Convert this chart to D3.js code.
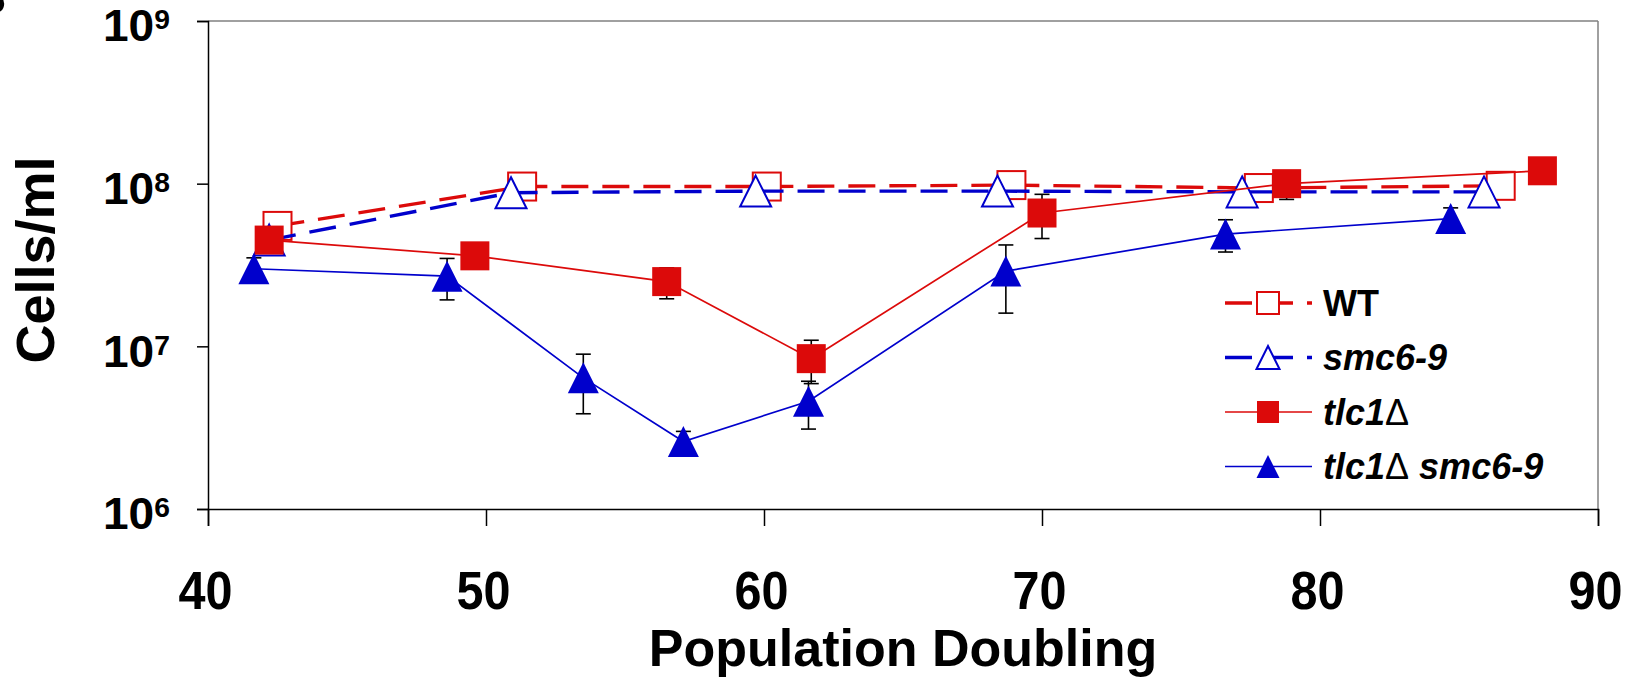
<!DOCTYPE html>
<html>
<head>
<meta charset="utf-8">
<script src="https://cdn.jsdelivr.net/npm/d3@7"></script>
<style>
  body { margin: 0; background: #fff; }
  svg { display: block; font-family: "Liberation Sans", Arial, sans-serif; }
  .axis text { font-weight: bold; fill: #000; }
</style>
</head>
<body>
<svg id="chart" width="1632" height="679"></svg>
<script>
const RED = '#dc0a0a'
const BLUE = '#0000cc'

// population doublings (x) and cells/ml (y) for each strain
const wtX = [42.5, 51.3, 60.1, 68.9, 77.8, 86.5]
const wtY = [5.5e7, 9.6e7, 9.6e7, 9.8e7, 9.4e7, 9.7e7]

const smcX = [42.2, 50.9, 59.7, 68.4, 77.2, 85.9]
const smcY = [4.5e7, 8.8e7, 9.0e7, 9.0e7, 8.9e7, 8.9e7]

const tlcX = [42.2, 49.6, 56.5, 61.7, 70.0, 78.8, 88.0]
const tlcY = [4.5e7, 3.6e7, 2.5e7, 8.4e6, 6.6e7, 1.0e8, 1.2e8]
const tlcErr = [null, null, 5.4e6, 2.5e6, 2.0e7, 2.0e7, null]

const dblX = [41.65, 48.6, 53.5, 57.1, 61.6, 68.7, 76.6, 84.7]
const dblY = [3.0e7, 2.7e7, 6.4e6, 2.6e6, 4.6e6, 2.9e7, 4.9e7, 6.1e7]
const dblErr = [5e6, 7.7e6, 2.55e6, 4e5, 1.5e6, 1.3e7, 1.1e7, 1.0e7]

const xTicks = [40, 50, 60, 70, 80, 90]
const yTicks = [1e6, 1e7, 1e8, 1e9]

const margin = { top: 21, right: 34, bottom: 170, left: 208 }
const width = 1632 - margin.left - margin.right
const height = 679 - margin.top - margin.bottom

const svg = d3.select('#chart')

// clipped panel letter at the top-left corner
svg.append('text')
  .attr('x', -31)
  .attr('y', 14)
  .attr('font-size', 52)
  .attr('font-weight', 'bold')
  .text('B')

const g = svg.append('g')
  .attr('transform', `translate(${margin.left},${margin.top})`)

const x = d3.scaleLinear().domain([40, 90]).range([0, width])
const y = d3.scaleLog().domain([1e6, 1e9]).range([height, 0])

// grey frame top / right
g.append('line')
  .attr('x1', 0).attr('x2', width).attr('y1', 0).attr('y2', 0)
  .attr('stroke', '#808080').attr('stroke-width', 1.5)
g.append('line')
  .attr('x1', width).attr('x2', width).attr('y1', 0).attr('y2', height)
  .attr('stroke', '#808080').attr('stroke-width', 1.5)

// axes
const yAxis = g.append('g')
  .attr('class', 'axis axis--y')
  .call(d3.axisLeft(y).tickValues(yTicks).tickSize(11).tickPadding(27).tickFormat(() => '10'))
yAxis.selectAll('text')
  .attr('font-size', 44)
  .attr('dy', '0.45em')
  .attr('textLength', 67)
  .attr('lengthAdjust', 'spacingAndGlyphs')
  .each(function (d) {
    d3.select(this).append('tspan')
      .attr('font-size', 27)
      .attr('dy', -12)
      .text(Math.round(Math.log10(d)))
  })

const xAxis = g.append('g')
  .attr('class', 'axis axis--x')
  .attr('transform', `translate(0,${height})`)
  .call(d3.axisBottom(x).tickValues(xTicks).tickSize(17).tickPadding(45).tickFormat(d3.format('d')))
xAxis.selectAll('text')
  .attr('font-size', 53)
  .attr('dx', -3)
  .attr('textLength', 54)
  .attr('lengthAdjust', 'spacingAndGlyphs')

g.selectAll('.axis path, .axis line').attr('stroke', '#000').attr('stroke-width', 1.5)

// axis titles
svg.append('text')
  .attr('x', margin.left + width / 2)
  .attr('y', 666)
  .attr('text-anchor', 'middle')
  .attr('font-size', 52)
  .attr('font-weight', 'bold')
  .text('Population Doubling')

svg.append('text')
  .attr('transform', 'translate(54,260) rotate(-90)')
  .attr('text-anchor', 'middle')
  .attr('font-size', 54)
  .attr('font-weight', 'bold')
  .text('Cells/ml')

// markers
function square(sel, size, fill, stroke) {
  sel.append('rect')
    .attr('x', -size / 2).attr('y', -size / 2)
    .attr('width', size).attr('height', size)
    .attr('fill', fill).attr('stroke', stroke).attr('stroke-width', fill === 'white' ? 2 : 0)
}
function triangle(sel, size, fill, stroke) {
  const h = size / 2
  sel.append('path')
    .attr('d', `M0,${-h}L${h},${h}L${-h},${h}Z`)
    .attr('fill', fill).attr('stroke', stroke).attr('stroke-width', fill === 'white' ? 2 : 0)
}

const series = [
  { xs: wtX, ys: wtY, err: null, color: RED, dash: '27,14', lw: 3.4, shape: square, size: 28, fill: 'white' },
  { xs: smcX, ys: smcY, err: null, color: BLUE, dash: '27,14', lw: 3.4, shape: triangle, size: 31, fill: 'white' },
  { xs: tlcX, ys: tlcY, err: tlcErr, color: RED, dash: null, lw: 1.7, shape: square, size: 29, fill: RED },
  { xs: dblX, ys: dblY, err: dblErr, color: BLUE, dash: null, lw: 1.7, shape: triangle, size: 31, fill: BLUE }
]

const line = d3.line().x(d => x(d[0])).y(d => y(d[1]))

series.forEach(s => {
  const pts = s.xs.map((v, i) => [v, s.ys[i], s.err ? s.err[i] : null])
  const sg = g.append('g')

  // error bars
  const eb = sg.selectAll('.err')
    .data(pts.filter(p => p[2]))
    .enter().append('g')
    .attr('class', 'err')
    .attr('stroke', '#000').attr('stroke-width', 1.6)
  eb.append('line')
    .attr('x1', p => x(p[0])).attr('x2', p => x(p[0]))
    .attr('y1', p => y(p[1] - p[2])).attr('y2', p => y(p[1] + p[2]))
  ;[-1, 1].forEach(sign => {
    eb.append('line')
      .attr('x1', p => x(p[0]) - 7.5).attr('x2', p => x(p[0]) + 7.5)
      .attr('y1', p => y(p[1] + sign * p[2])).attr('y2', p => y(p[1] + sign * p[2]))
  })

  sg.append('path')
    .attr('d', line(pts))
    .attr('fill', 'none')
    .attr('stroke', s.color)
    .attr('stroke-width', s.lw)
    .attr('stroke-dasharray', s.dash)

  sg.selectAll('.mark')
    .data(pts)
    .enter().append('g')
    .attr('class', 'mark')
    .attr('transform', p => `translate(${x(p[0])},${y(p[1])})`)
    .each(function () { s.shape(d3.select(this), s.size, s.fill, s.color) })
})

// legend
const legendItems = [
  { label: [['WT', 'normal', 'bold']], s: series[0] },
  { label: [['smc6-9', 'italic', 'bold']], s: series[1] },
  { label: [['tlc1', 'italic', 'bold'], ['\u0394', 'normal', 'normal']], s: series[2] },
  { label: [['tlc1', 'italic', 'bold'], ['\u0394', 'normal', 'normal'], [' smc6-9', 'italic', 'bold']], s: series[3] }
]

const legend = svg.append('g').attr('transform', 'translate(1225,303)')
legendItems.forEach((item, i) => {
  const row = legend.append('g').attr('transform', `translate(0,${i * 54.5})`)
  row.append('line')
    .attr('x1', 0).attr('x2', 87)
    .attr('stroke', item.s.color)
    .attr('stroke-width', item.s.lw)
    .attr('stroke-dasharray', item.s.dash)
  const m = row.append('g').attr('transform', 'translate(43,0)')
  item.s.shape(m, item.s.shape === square ? 22 : 23, item.s.fill, item.s.color)
  const t = row.append('text')
    .attr('x', 98)
    .attr('dy', '0.36em')
    .attr('font-size', 36)
  item.label.forEach(part => {
    t.append('tspan')
      .attr('font-style', part[1])
      .attr('font-weight', part[2])
      .text(part[0])
  })
})
</script>
</body>
</html>
